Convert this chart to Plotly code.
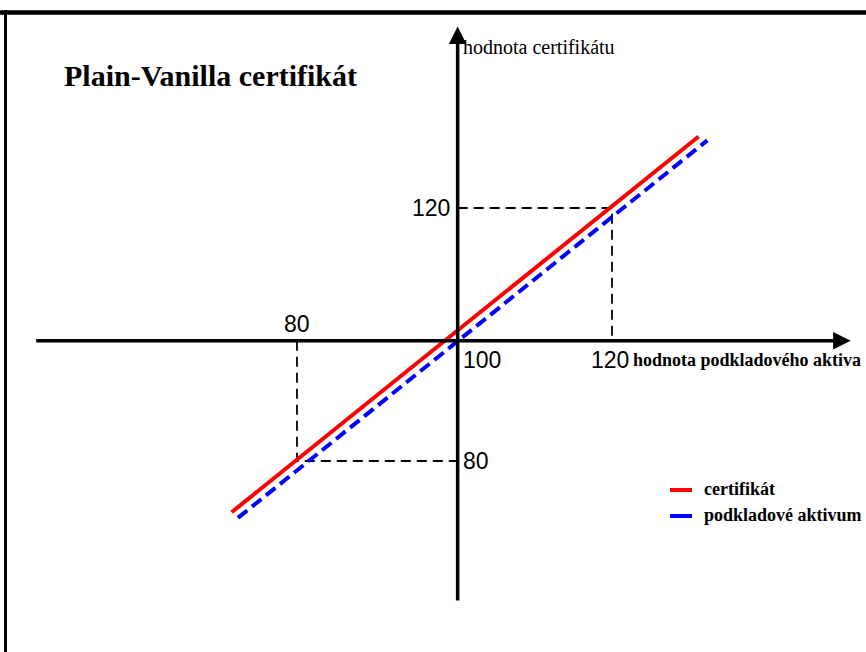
import plotly.graph_objects as go

# Plain-vanilla certificate payoff: certificate value vs. underlying value
cert_x = [71.7, 131.0]
cert_y = [71.9, 131.3]
under_x = [72.5, 132.1]
under_y = [71.0, 130.7]

guide_levels = [80, 120]
series_names = ["certifikát", "podkladové aktivum"]
series_colors = ["#ff0000", "#0000ff"]

title_text = "Plain-Vanilla certifikát"
x_axis_title = "hodnota podkladového aktiva"
y_axis_title = "hodnota certifikátu"

# where the drawn axes cross (data units)
AXIS_X = 100.4
AXIS_Y = 99.0
X_RANGE = [42.29, 152.25]
Y_RANGE = [49.80, 152.89]

SERIF = "Liberation Serif, Times New Roman, serif"
SANS = "Liberation Sans, Arial, sans-serif"

fig = go.Figure()

# dashed guide lines at 80 and 120
guide = dict(color="black", width=1.8, dash="10px,6px")
lo, hi = guide_levels
fig.add_trace(go.Scatter(x=[lo, lo, AXIS_X], y=[AXIS_Y, lo, lo], mode="lines",
                         line=guide, hoverinfo="skip", showlegend=False))
fig.add_trace(go.Scatter(x=[AXIS_X, hi, hi], y=[hi, hi, AXIS_Y], mode="lines",
                         line=guide, hoverinfo="skip", showlegend=False))

# payoff lines
fig.add_trace(go.Scatter(x=under_x, y=under_y, mode="lines", name=series_names[1],
                         line=dict(color=series_colors[1], width=4, dash="12px,6px"),
                         showlegend=False))
fig.add_trace(go.Scatter(x=cert_x, y=cert_y, mode="lines", name=series_names[0],
                         line=dict(color=series_colors[0], width=4),
                         showlegend=False))

# axes with arrowheads
arrow = dict(text="", showarrow=True, arrowhead=2, arrowsize=1, arrowwidth=3.5,
             arrowcolor="black", xref="x", yref="y", axref="x", ayref="y", standoff=0)
fig.add_annotation(x=150.3, y=AXIS_Y, ax=46.7, ay=AXIS_Y, **arrow)
fig.add_annotation(x=AXIS_X, y=148.7, ax=AXIS_X, ay=57.7, **arrow)

num_font = dict(family=SANS, size=23, color="black")
fig.add_annotation(x=lo, y=AXIS_Y, text=str(lo), showarrow=False, font=num_font,
                   xanchor="center", yanchor="bottom", yshift=2)
fig.add_annotation(x=AXIS_X, y=AXIS_Y, text="100", showarrow=False, font=num_font,
                   xanchor="left", yanchor="top", xshift=3, yshift=-4)
fig.add_annotation(x=hi, y=AXIS_Y, text=str(hi), showarrow=False, font=num_font,
                   xanchor="center", yanchor="top", xshift=-2, yshift=-4)
fig.add_annotation(x=AXIS_X, y=hi, text=str(hi), showarrow=False, font=num_font,
                   xanchor="right", yanchor="middle", xshift=-6)
fig.add_annotation(x=AXIS_X, y=lo, text=str(lo), showarrow=False, font=num_font,
                   xanchor="left", yanchor="middle", xshift=3)

# axis titles and chart title
fig.add_annotation(x=AXIS_X, y=145.5, text=y_axis_title, showarrow=False,
                   font=dict(family=SERIF, size=20, color="black"),
                   xanchor="left", yanchor="middle", xshift=3)
fig.add_annotation(x=hi, y=AXIS_Y, text="<b>" + x_axis_title + "</b>", showarrow=False,
                   font=dict(family=SERIF, size=18, color="black"),
                   xanchor="left", yanchor="top", xshift=19, yshift=-7)
fig.add_annotation(x=62 / 866, y=1 - 75 / 652, xref="paper", yref="paper",
                   text="<b>" + title_text + "</b>", showarrow=False,
                   font=dict(family=SERIF, size=30, color="black"),
                   xanchor="left", yanchor="middle")

# legend drawn by hand (solid keys)
for i, (name, col) in enumerate(zip(series_names, series_colors)):
    ypos = 1 - (490 + 26 * i) / 652
    fig.add_shape(type="line", xref="paper", yref="paper",
                  x0=670 / 866, x1=692 / 866, y0=ypos, y1=ypos,
                  line=dict(color=col, width=4))
    fig.add_annotation(x=702 / 866, y=ypos, xref="paper", yref="paper",
                       text="<b>" + name + "</b>", showarrow=False,
                       font=dict(family=SERIF, size=18, color="black"),
                       xanchor="left", yanchor="middle", yshift=1)

# frame around the picture
fig.add_shape(type="line", xref="paper", yref="paper", x0=0, x1=1.05,
              y0=1 - 12.5 / 652, y1=1 - 12.5 / 652, line=dict(color="black", width=4.5))
fig.add_shape(type="line", xref="paper", yref="paper", x0=5.5 / 866, x1=5.5 / 866,
              y0=-0.05, y1=1 - 10 / 652, line=dict(color="black", width=3))

fig.update_xaxes(range=X_RANGE, visible=False, fixedrange=True)
fig.update_yaxes(range=Y_RANGE, visible=False, fixedrange=True)
fig.update_layout(width=866, height=652, margin=dict(l=0, r=0, t=0, b=0),
                  plot_bgcolor="white", paper_bgcolor="white", showlegend=False)

# drop the browser's default 8px body margin so the figure fills the window
fig.write_html("out.html", config={"displayModeBar": False},
               post_script="document.body.style.margin = '0';")
